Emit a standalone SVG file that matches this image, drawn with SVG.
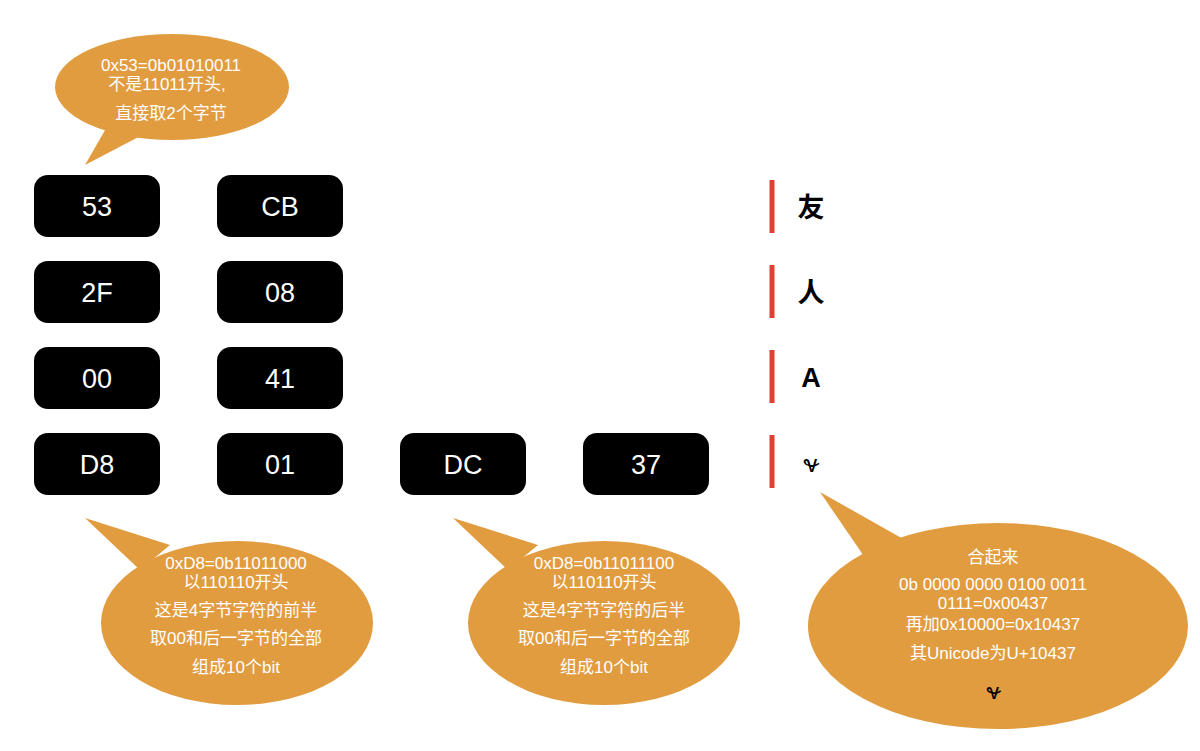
<svg xmlns="http://www.w3.org/2000/svg" width="1200" height="751" viewBox="0 0 1200 751">
<style>
.box{fill:#000}
.bt{fill:#fff;font-family:"Liberation Sans",Arial,sans-serif;font-size:27px;text-anchor:middle}
.bub{fill:#E29C40}
.ct{fill:#fff;font-family:"Liberation Sans","Noto Sans CJK SC",sans-serif;font-size:17px;text-anchor:middle}
.bar{stroke:#E0402F;stroke-width:5}
.ch{font-family:"Liberation Sans","Noto Sans CJK SC",sans-serif;font-size:27px;font-weight:bold;text-anchor:middle;fill:#000}
.dz{font-family:"DejaVu Serif","DejaVu Sans","Noto Sans",serif;font-size:24px;text-anchor:middle;fill:#000}
</style>
<rect width="1200" height="751" fill="#fff"/>
<g id="b53"><rect class="box" x="34" y="175" width="126" height="62" rx="14"/><text class="bt" x="97" y="216">53</text></g>
<g id="bCB"><rect class="box" x="217" y="175" width="126" height="62" rx="14"/><text class="bt" x="280" y="216">CB</text></g>
<g id="b2F"><rect class="box" x="34" y="261" width="126" height="62" rx="14"/><text class="bt" x="97" y="302">2F</text></g>
<g id="b08"><rect class="box" x="217" y="261" width="126" height="62" rx="14"/><text class="bt" x="280" y="302">08</text></g>
<g id="b00"><rect class="box" x="34" y="347" width="126" height="62" rx="14"/><text class="bt" x="97" y="388">00</text></g>
<g id="b41"><rect class="box" x="217" y="347" width="126" height="62" rx="14"/><text class="bt" x="280" y="388">41</text></g>
<g id="bD8"><rect class="box" x="34" y="433" width="126" height="62" rx="14"/><text class="bt" x="97" y="474">D8</text></g>
<g id="b01"><rect class="box" x="217" y="433" width="126" height="62" rx="14"/><text class="bt" x="280" y="474">01</text></g>
<g id="bDC"><rect class="box" x="400" y="433" width="126" height="62" rx="14"/><text class="bt" x="463" y="474">DC</text></g>
<g id="b37"><rect class="box" x="583" y="433" width="126" height="62" rx="14"/><text class="bt" x="646" y="474">37</text></g>
<g id="results">
<line class="bar" x1="772" y1="180" x2="772" y2="233"/>
<line class="bar" x1="772" y1="265" x2="772" y2="318"/>
<line class="bar" x1="772" y1="350" x2="772" y2="403"/>
<line class="bar" x1="772" y1="435" x2="772" y2="488"/>
<text class="ch" x="811" y="217">友</text>
<text class="ch" x="811" y="302">人</text>
<text class="ch" x="811" y="387">A</text>
<text class="dz" x="811" y="472">𐐷</text>
</g>
<g id="callout1">
<path class="bub" d="M85,165 L108,125 L148,132 Z"/>
<ellipse class="bub" cx="172" cy="87" rx="117" ry="53"/>
<text class="ct" x="171" y="71">0x53=0b01010011</text>
<text class="ct" x="167" y="90">不是11011开头,</text>
<text class="ct" x="171" y="119">直接取2个字节</text>
</g>
<g id="callout2">
<path class="bub" d="M85,518 L170,545 L140,570 Z"/>
<ellipse class="bub" cx="237" cy="623" rx="136" ry="82"/>
<text class="ct" x="236" y="569">0xD8=0b11011000</text>
<text class="ct" x="236" y="588">以110110开头</text>
<text class="ct" x="236" y="616">这是4字节字符的前半</text>
<text class="ct" x="236" y="644">取00和后一字节的全部</text>
<text class="ct" x="236" y="673">组成10个bit</text>
</g>
<g id="callout3">
<path class="bub" d="M453,518 L538,545 L508,570 Z"/>
<ellipse class="bub" cx="604" cy="623" rx="136" ry="82"/>
<text class="ct" x="604" y="569">0xD8=0b11011100</text>
<text class="ct" x="604" y="588">以110110开头</text>
<text class="ct" x="604" y="616">这是4字节字符的后半</text>
<text class="ct" x="604" y="644">取00和后一字节的全部</text>
<text class="ct" x="604" y="673">组成10个bit</text>
</g>
<g id="callout4">
<path class="bub" d="M820,492 L905,540 L870,565 Z"/>
<ellipse class="bub" cx="998" cy="626" rx="190" ry="103"/>
<text class="ct" x="993" y="563">合起来</text>
<text class="ct" x="993" y="590">0b 0000 0000 0100 0011</text>
<text class="ct" x="993" y="609">0111=0x00437</text>
<text class="ct" x="993" y="630">再加0x10000=0x10437</text>
<text class="ct" x="993" y="659">其Unicode为U+10437</text>
<text class="dz" x="993" y="699" style="font-size:22px">𐐷</text>
</g>
</svg>
